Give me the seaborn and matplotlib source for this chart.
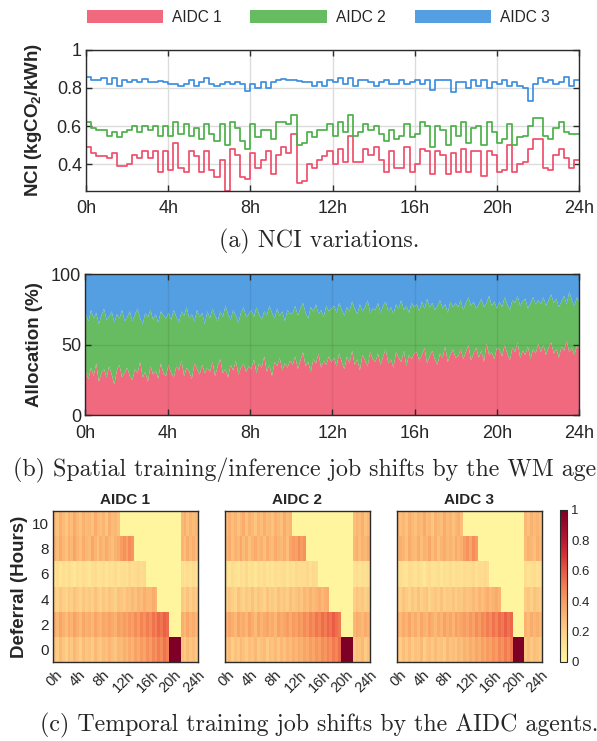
import numpy as np
import matplotlib
matplotlib.use("Agg")
import matplotlib.pyplot as plt
import seaborn as sns
from matplotlib.patches import Patch
from matplotlib.colors import LinearSegmentedColormap

sns.set_style("ticks")
plt.rcParams['font.family'] = ['Liberation Sans', 'DejaVu Sans']
plt.rcParams['mathtext.fontset'] = 'custom'
plt.rcParams['mathtext.rm'] = 'Liberation Sans'
plt.rcParams['mathtext.bf'] = 'Liberation Sans:bold'
plt.rcParams['xtick.direction'] = 'in'
plt.rcParams['ytick.direction'] = 'in'

# ---------------- data ----------------
NAMES = ["AIDC 1", "AIDC 2", "AIDC 3"]
HOUR_TICKS = [0, 4, 8, 12, 16, 20, 24]
HOUR_LABELS = ["0h", "4h", "8h", "12h", "16h", "20h", "24h"]

# NCI, 15-minute steps (96 per day)
NCI_1 = [0.49, 0.46, 0.44, 0.44, 0.43, 0.46, 0.39, 0.39, 0.40, 0.45, 0.43, 0.47, 0.43, 0.47, 0.36, 0.47,
         0.37, 0.51, 0.38, 0.36, 0.47, 0.44, 0.36, 0.47, 0.37, 0.33, 0.42, 0.26, 0.48, 0.45, 0.33, 0.32,
         0.46, 0.38, 0.42, 0.47, 0.35, 0.45, 0.49, 0.46, 0.56, 0.30, 0.31, 0.40, 0.38, 0.42, 0.44, 0.47,
         0.40, 0.48, 0.41, 0.55, 0.41, 0.41, 0.48, 0.45, 0.49, 0.42, 0.36, 0.47, 0.38, 0.38, 0.49, 0.36,
         0.40, 0.48, 0.47, 0.35, 0.47, 0.45, 0.35, 0.46, 0.36, 0.48, 0.36, 0.47, 0.47, 0.34, 0.47, 0.45,
         0.36, 0.37, 0.50, 0.36, 0.40, 0.41, 0.48, 0.53, 0.53, 0.38, 0.37, 0.45, 0.48, 0.43, 0.38, 0.42]
NCI_2 = [0.62, 0.59, 0.58, 0.58, 0.55, 0.57, 0.54, 0.57, 0.58, 0.60, 0.57, 0.60, 0.58, 0.60, 0.55, 0.60,
         0.55, 0.62, 0.56, 0.61, 0.55, 0.59, 0.53, 0.61, 0.56, 0.52, 0.61, 0.50, 0.62, 0.59, 0.52, 0.48,
         0.61, 0.54, 0.58, 0.58, 0.53, 0.62, 0.62, 0.61, 0.66, 0.50, 0.51, 0.57, 0.54, 0.58, 0.58, 0.61,
         0.55, 0.62, 0.57, 0.66, 0.55, 0.57, 0.61, 0.58, 0.60, 0.56, 0.52, 0.58, 0.53, 0.55, 0.61, 0.54,
         0.56, 0.62, 0.60, 0.49, 0.60, 0.58, 0.50, 0.60, 0.55, 0.62, 0.51, 0.59, 0.60, 0.50, 0.62, 0.57,
         0.51, 0.53, 0.61, 0.50, 0.54, 0.55, 0.60, 0.64, 0.64, 0.55, 0.53, 0.59, 0.62, 0.57, 0.56, 0.56]
NCI_3 = [0.86, 0.84, 0.84, 0.85, 0.82, 0.85, 0.81, 0.84, 0.83, 0.84, 0.83, 0.845, 0.83, 0.83, 0.835, 0.83,
         0.82, 0.82, 0.81, 0.82, 0.84, 0.81, 0.83, 0.855, 0.82, 0.81, 0.82, 0.83, 0.82, 0.83, 0.82, 0.785,
         0.82, 0.80, 0.83, 0.80, 0.83, 0.84, 0.845, 0.84, 0.84, 0.835, 0.83, 0.83, 0.81, 0.83, 0.81, 0.84,
         0.83, 0.85, 0.82, 0.85, 0.81, 0.84, 0.84, 0.83, 0.81, 0.83, 0.84, 0.82, 0.82, 0.84, 0.82, 0.83,
         0.84, 0.82, 0.84, 0.79, 0.84, 0.84, 0.84, 0.78, 0.83, 0.83, 0.80, 0.84, 0.81, 0.84, 0.80, 0.83,
         0.82, 0.84, 0.81, 0.83, 0.81, 0.80, 0.73, 0.82, 0.85, 0.83, 0.84, 0.82, 0.83, 0.86, 0.81, 0.84]

# allocation shares (%), 192 samples per day; AIDC 2 takes the remainder
ALLOC_1 = [31, 26, 34, 28, 37, 24, 30, 33, 27, 35, 29, 22, 32, 36, 27, 30,
           34, 28, 25, 33, 30, 38, 27, 31, 24, 35, 29, 32, 26, 37, 30, 28,
           36, 30, 27, 35, 32, 39, 28, 34, 31, 26, 37, 33, 29, 36, 30, 34,
           31, 38, 28, 35, 40, 30, 33, 27, 36, 32, 39, 29, 34, 37, 31, 35,
           33, 40, 30, 37, 34, 42, 31, 36, 28, 38, 35, 41, 32, 37, 34, 39,
           36, 42, 33, 39, 45, 35, 38, 31, 40, 37, 44, 34, 39, 36, 42, 38,
           41, 35, 44, 38, 33, 42, 37, 46, 36, 40, 32, 43, 39, 35, 45, 40,
           38, 44, 36, 42, 47, 37, 40, 34, 45, 41, 38, 46, 35, 43, 40, 44,
           45, 39, 43, 48, 37, 42, 46, 40, 36, 44, 41, 49, 38, 43, 47, 41,
           42, 47, 40, 45, 50, 39, 44, 48, 41, 46, 38, 51, 43, 45, 40, 48,
           47, 42, 50, 44, 39, 48, 45, 52, 41, 46, 43, 49, 40, 47, 44, 51,
           45, 50, 43, 48, 52, 44, 47, 41, 49, 46, 53, 45, 48, 43, 50, 47]
ALLOC_3 = [28, 33, 25, 31, 27, 35, 29, 24, 32, 30, 26, 34, 28, 31, 25, 33,
           30, 26, 33, 28, 24, 31, 35, 27, 30, 25, 32, 28, 34, 26, 29, 31,
           27, 32, 25, 30, 34, 26, 29, 23, 31, 28, 33, 25, 30, 27, 35, 26,
           31, 24, 29, 33, 26, 30, 22, 28, 32, 25, 29, 34, 27, 23, 30, 28,
           25, 30, 23, 28, 32, 26, 29, 22, 27, 31, 24, 29, 26, 33, 25, 28,
           27, 22, 29, 24, 20, 27, 31, 23, 26, 21, 28, 25, 30, 22, 26, 24,
           22, 27, 20, 25, 29, 23, 26, 19, 24, 28, 21, 26, 23, 18, 27, 24,
           25, 20, 27, 22, 19, 26, 23, 28, 21, 24, 18, 25, 22, 27, 20, 23,
           21, 26, 19, 24, 17, 23, 20, 25, 22, 18, 24, 21, 27, 19, 23, 20,
           23, 18, 25, 20, 16, 22, 19, 24, 21, 17, 23, 20, 15, 22, 19, 24,
           19, 23, 16, 21, 25, 18, 20, 15, 22, 19, 17, 24, 20, 16, 21, 18,
           21, 16, 22, 18, 14, 20, 17, 23, 19, 15, 21, 12, 18, 22, 16, 20]

# deferral heatmaps (% of jobs), rows = deferral 10,8,6,4,2,0 ; 50 half-hour columns
DEFERRAL_LABELS = ["10", "8", "6", "4", "2", "0"]
HEAT_1 = [
    [30, 26, 33, 28, 24, 31, 27, 35, 29, 25, 32, 28, 30, 26, 34, 29, 27, 31, 24, 33, 28, 30, 26,
     1, 1, 1, 1, 1, 1, 1, 1, 1, 1, 1, 1, 1, 1, 1, 1, 1, 1, 1, 1, 1, 29, 33, 26, 31, 28, 30],
    [32, 28, 35, 30, 26, 33, 29, 37, 31, 27, 34, 30, 28, 36, 31, 26, 33, 29, 35, 30, 27, 32, 34,
     40, 44, 38, 46, 42, 1, 1, 1, 1, 1, 1, 1, 1, 1, 1, 1, 1, 1, 1, 1, 1, 31, 27, 34, 29, 33, 28],
    [12, 14, 10, 13, 11, 15, 12, 9, 13, 11, 14, 12, 10, 13, 15, 11, 12, 14, 10, 13, 12, 15, 11,
     13, 14, 12, 16, 13, 15, 17, 14, 16, 1, 1, 1, 1, 1, 1, 1, 1, 1, 1, 1, 1, 13, 11, 14, 12, 15, 12],
    [22, 19, 24, 21, 18, 23, 20, 25, 22, 19, 24, 21, 23, 20, 26, 22, 19, 24, 21, 25, 23, 20, 26,
     24, 22, 27, 25, 29, 26, 31, 28, 33, 29, 30, 34, 31, 1, 1, 1, 1, 1, 1, 1, 1, 23, 20, 25, 21, 24, 22],
    [34, 30, 37, 32, 28, 35, 31, 38, 33, 29, 36, 32, 34, 30, 37, 33, 31, 36, 34, 38, 35, 32, 39,
     36, 40, 37, 42, 39, 45, 41, 48, 44, 50, 46, 53, 49, 56, 52, 58, 55, 1, 1, 1, 1, 33, 29, 36, 31, 34, 30],
    [26, 22, 29, 24, 20, 27, 23, 30, 25, 21, 28, 24, 26, 22, 29, 25, 23, 28, 26, 31, 27, 24, 30,
     28, 33, 29, 35, 31, 38, 34, 41, 37, 44, 40, 47, 43, 50, 46, 53, 49, 100, 100, 100, 100, 26, 22, 28, 24, 27, 23],
]
HEAT_2 = [
    [28, 33, 27, 31, 25, 30, 34, 26, 32, 29, 24, 31, 27, 33, 28, 30, 25, 32, 29, 26, 34, 28, 31,
     1, 1, 1, 1, 1, 1, 1, 1, 1, 1, 1, 1, 1, 1, 1, 1, 1, 1, 1, 1, 1, 27, 31, 28, 33, 26, 30],
    [30, 34, 27, 32, 29, 36, 28, 33, 26, 31, 35, 29, 32, 27, 34, 30, 28, 35, 31, 29, 33, 27, 36,
     41, 38, 45, 40, 43, 1, 1, 1, 1, 1, 1, 1, 1, 1, 1, 1, 1, 1, 1, 1, 1, 29, 33, 27, 32, 30, 34],
    [13, 11, 15, 12, 10, 14, 12, 16, 11, 13, 9, 14, 12, 15, 11, 13, 10, 14, 12, 13, 15, 11, 14,
     12, 16, 13, 15, 14, 17, 13, 16, 15, 1, 1, 1, 1, 1, 1, 1, 1, 1, 1, 1, 1, 12, 14, 11, 13, 12, 15],
    [20, 24, 21, 18, 25, 22, 19, 23, 21, 26, 20, 24, 22, 19, 25, 21, 23, 20, 26, 22, 24, 21, 27,
     23, 25, 28, 24, 30, 27, 32, 28, 31, 34, 30, 33, 35, 1, 1, 1, 1, 1, 1, 1, 1, 21, 25, 22, 24, 20, 23],
    [31, 36, 33, 29, 37, 32, 35, 30, 38, 33, 28, 36, 31, 34, 37, 32, 35, 30, 38, 34, 36, 40, 35,
     41, 38, 43, 40, 46, 42, 49, 45, 52, 48, 55, 50, 57, 53, 59, 54, 51, 1, 1, 1, 1, 30, 35, 32, 29, 34, 31],
    [24, 28, 21, 26, 23, 29, 25, 22, 27, 24, 30, 23, 26, 28, 22, 27, 25, 29, 24, 30, 26, 31, 28,
     33, 30, 35, 32, 37, 34, 40, 36, 42, 39, 45, 42, 48, 44, 51, 47, 54, 100, 100, 100, 100, 23, 27, 25, 29, 22, 26],
]
HEAT_3 = [
    [32, 27, 30, 25, 33, 29, 26, 31, 28, 35, 27, 30, 24, 32, 29, 27, 34, 28, 31, 26, 30, 33, 27,
     1, 1, 1, 1, 1, 1, 1, 1, 1, 1, 1, 1, 1, 1, 1, 1, 1, 1, 1, 1, 1, 30, 26, 32, 28, 31, 27],
    [29, 33, 31, 26, 35, 30, 28, 34, 27, 32, 30, 36, 28, 33, 26, 31, 34, 29, 32, 28, 35, 30, 33,
     39, 43, 37, 45, 41, 1, 1, 1, 1, 1, 1, 1, 1, 1, 1, 1, 1, 1, 1, 1, 1, 28, 32, 30, 26, 33, 29],
    [11, 14, 12, 10, 15, 13, 11, 14, 12, 9, 13, 15, 11, 12, 14, 10, 13, 12, 15, 11, 14, 13, 12,
     15, 13, 14, 16, 12, 15, 14, 17, 15, 1, 1, 1, 1, 1, 1, 1, 1, 1, 1, 1, 1, 14, 11, 13, 15, 12, 13],
    [23, 20, 25, 22, 19, 24, 21, 26, 20, 23, 25, 19, 22, 24, 21, 26, 20, 23, 22, 25, 21, 24, 23,
     27, 24, 26, 29, 25, 31, 27, 30, 33, 29, 32, 35, 31, 1, 1, 1, 1, 1, 1, 1, 1, 22, 24, 20, 25, 23, 21],
    [33, 29, 35, 31, 37, 30, 34, 28, 36, 32, 30, 37, 33, 29, 35, 31, 38, 33, 36, 31, 39, 35, 37,
     40, 36, 42, 38, 45, 41, 47, 43, 50, 46, 53, 48, 55, 51, 58, 53, 56, 1, 1, 1, 1, 32, 28, 34, 30, 33, 29],
    [25, 21, 27, 23, 28, 22, 26, 24, 29, 21, 25, 27, 23, 28, 24, 26, 22, 29, 25, 27, 24, 30, 27,
     32, 29, 34, 31, 36, 33, 39, 35, 41, 38, 44, 40, 47, 43, 50, 46, 52, 100, 100, 100, 100, 24, 28, 23, 27, 25, 22],
]

CBAR_TICKS = [0, 0.2, 0.4, 0.6, 0.8, 1]
CBAR_LABELS = ["0", "0.2", "0.4", "0.6", "0.8", "1"]

# ---------------- style ----------------
LINE_COLORS = ["#EE4F6B", "#4DB04A", "#3D8FE0"]
FILL_COLORS = ["#F0697E", "#67BB60", "#539FE2"]
SPINE = "#2b2b2b"
TICK_FS = 13
LABEL_FS = 13.5
CAP_FONT = dict(family="cmr10", size=17.2)

fig = plt.figure(figsize=(5.97, 7.41), dpi=100)


def style_box(ax):
    for s in ax.spines.values():
        s.set_visible(True)
        s.set_color(SPINE)
        s.set_linewidth(1.0)


# ---------------- (a) NCI ----------------
ax1 = fig.add_axes([0.144, 0.7426, 0.826, 0.190])
t_steps = np.arange(len(NCI_1) + 1) * 24.0 / len(NCI_1)
for vals, col in zip([NCI_1, NCI_2, NCI_3], LINE_COLORS):
    y = list(vals) + [vals[-1]]
    sns.lineplot(x=t_steps, y=y, ax=ax1, color=col, linewidth=1.25,
                 drawstyle="steps-post", estimator=None, legend=False)
ax1.set_xlim(0, 24)
ax1.set_ylim(0.26, 1.0)
ax1.set_xticks(HOUR_TICKS)
ax1.set_xticklabels(HOUR_LABELS)
ax1.set_yticks([0.4, 0.6, 0.8, 1.0])
ax1.set_yticklabels(["0.4", "0.6", "0.8", "1"])
ax1.grid(True, color="#dcdcdc", linewidth=1.0)
ax1.set_axisbelow(True)
ax1.tick_params(labelsize=TICK_FS, length=4, width=1.0, color=SPINE,
                top=True, right=True, pad=3)
ax1.tick_params(axis="x", pad=7)
ax1.set_xlabel("")
ax1.set_ylabel(r"NCI (kgCO$_\mathbf{2}$/kWh)", fontsize=LABEL_FS, fontweight="bold")
ax1.yaxis.set_label_coords(-0.085, 0.5)
style_box(ax1)

handles = [Patch(facecolor=c, edgecolor="none", label=n) for c, n in zip(FILL_COLORS, NAMES)]
fig.legend(handles=handles, loc="center", bbox_to_anchor=(0.533, 0.977), ncol=3,
           frameon=False, fontsize=11.2, handlelength=4.9, handleheight=0.95,
           handletextpad=0.6, columnspacing=1.85)

fig.text(0.534, 1 - 241 / 741, "(a) NCI variations.", ha="center", va="center", **CAP_FONT)

# ---------------- (b) allocation ----------------
ax2 = fig.add_axes([0.143, 0.4399, 0.827, 0.190])
t_alloc = np.linspace(0, 24, len(ALLOC_1))
a1 = np.array(ALLOC_1, dtype=float)
a3 = np.array(ALLOC_3, dtype=float)
a2 = 100.0 - a1 - a3
ax2.stackplot(t_alloc, a1, a2, a3, colors=FILL_COLORS, linewidth=0)
ax2.set_xlim(0, 24)
ax2.set_ylim(0, 100)
ax2.set_xticks(HOUR_TICKS)
ax2.set_xticklabels(HOUR_LABELS)
ax2.set_yticks([0, 50, 100])
ax2.set_yticklabels(["0", "50", "100"])
ax2.set_axisbelow(False)
ax2.grid(True, color="black", alpha=0.07, linewidth=1.0)
ax2.tick_params(labelsize=TICK_FS, length=4, width=1.0, color=SPINE,
                top=True, right=True, pad=3)
ax2.tick_params(axis="x", pad=7)
ax2.set_ylabel("Allocation (%)", fontsize=LABEL_FS, fontweight="bold")
ax2.yaxis.set_label_coords(-0.085, 0.5)
style_box(ax2)

fig.text(0.534, 1 - 470 / 741, "(b) Spatial training/inference job shifts by the WM agent.",
         ha="center", va="center", **CAP_FONT)

# ---------------- (c) heatmaps ----------------
cmap = LinearSegmentedColormap.from_list("defer", [
    (0.0, "#FFF6A0"), (0.1, "#FEE594"), (0.2, "#FDD088"), (0.3, "#FBB774"),
    (0.4, "#F89D62"), (0.5, "#F27E52"), (0.6, "#E85A45"), (0.7, "#D43438"),
    (0.8, "#B81A33"), (0.9, "#9A0A2E"), (1.0, "#7F0026")])

hb, hh = 1 - 662 / 741, 151 / 741
lefts = [53 / 597, 225 / 597, 396.5 / 597]
hw = 145 / 597
cax = fig.add_axes([560 / 597, 1 - 662 / 741, 7 / 597, 152 / 741])

for k, (data, name) in enumerate(zip([HEAT_1, HEAT_2, HEAT_3], NAMES)):
    ax = fig.add_axes([lefts[k], hb, hw, hh])
    arr = np.array(data, dtype=float) / 100.0
    sns.heatmap(arr, ax=ax, cmap=cmap, vmin=0, vmax=1,
                cbar=(k == 2), cbar_ax=cax if k == 2 else None,
                xticklabels=False, yticklabels=False, rasterized=True)
    ax.set_xticks([2 * h + 0.5 for h in HOUR_TICKS])
    ax.set_xticklabels(HOUR_LABELS, rotation=45, ha="center", fontsize=10.5)
    ax.set_yticks(np.arange(len(DEFERRAL_LABELS)) + 0.5)
    if k == 0:
        ax.set_yticklabels(DEFERRAL_LABELS, rotation=0, fontsize=11)
        ax.set_ylabel("Deferral (Hours)", fontsize=LABEL_FS, fontweight="bold")
        ax.yaxis.set_label_coords(-0.17, 0.5)
    else:
        ax.set_yticklabels([])
    ax.tick_params(length=3, width=0.8, color=SPINE, top=True, right=True, pad=3)
    ax.tick_params(axis="x", pad=4)
    ax.set_title(name, fontsize=11, fontweight="bold", pad=5)
    style_box(ax)

cbar = fig.axes[-1].collections[0].colorbar
cbar.set_ticks(CBAR_TICKS)
cbar.set_ticklabels(CBAR_LABELS)
cax.tick_params(labelsize=9.5, direction="in", length=2.5, width=0.7, color=SPINE, pad=3)
cbar.outline.set_visible(True)
cbar.outline.set_edgecolor(SPINE)
cbar.outline.set_linewidth(0.8)

fig.text(0.534, 1 - 725 / 741, "(c) Temporal training job shifts by the AIDC agents.",
         ha="center", va="center", **CAP_FONT)

fig.savefig("out.png", dpi=100)
